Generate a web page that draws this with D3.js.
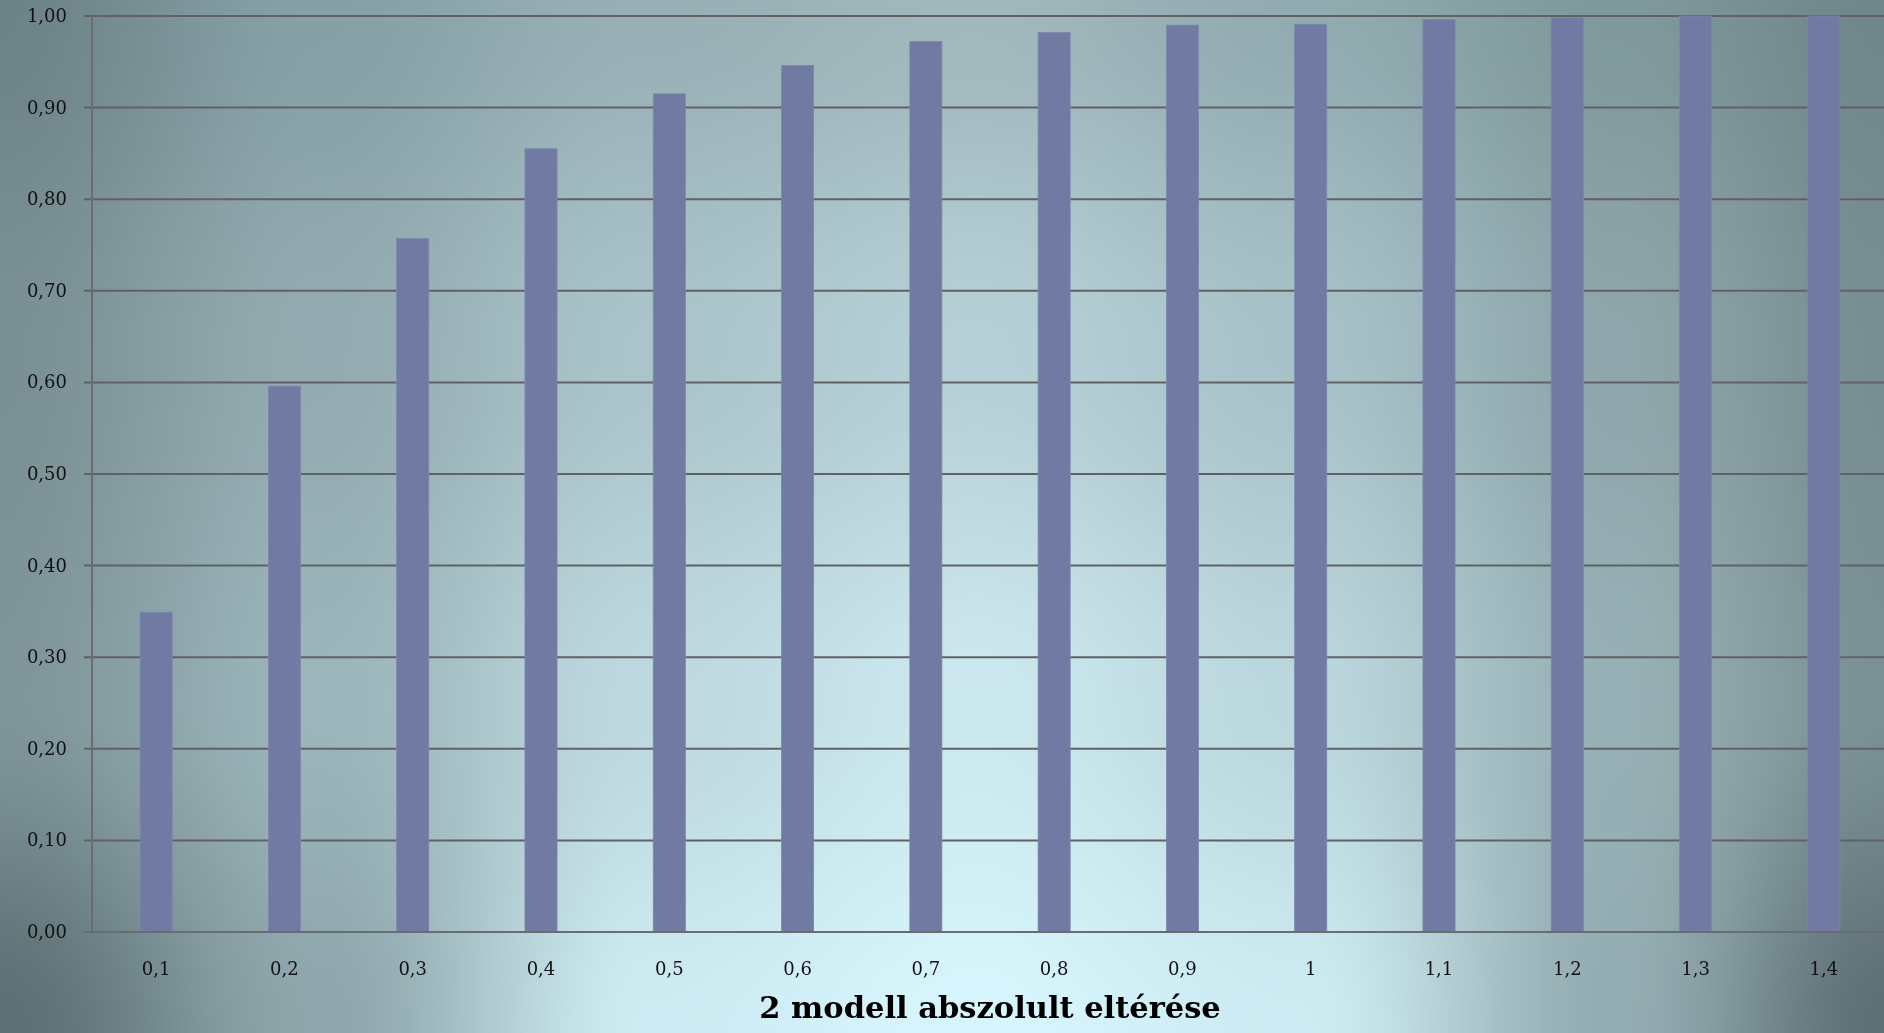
<!DOCTYPE html>
<html>
<head>
<meta charset="utf-8">
<script src="https://cdn.jsdelivr.net/npm/d3@7"></script>
<style>
  html, body { margin: 0; padding: 0; overflow: hidden; background: #7a9095; }
  #wrap { position: relative; width: 1884px; height: 1033px; }
  #bg, #chart { position: absolute; left: 0; top: 0; display: block; }
</style>
</head>
<body>
<div id="wrap">
<canvas id="bg" width="1884" height="1033"></canvas>
<svg id="chart" width="1884" height="1033"></svg>
</div>
<script>
// ---- data ----
const categories = ["0,1","0,2","0,3","0,4","0,5","0,6","0,7","0,8","0,9","1","1,1","1,2","1,3","1,4"];
const values = [0.349, 0.596, 0.757, 0.855, 0.915, 0.946, 0.972, 0.982, 0.990, 0.991, 0.996, 0.998, 1.000, 1.000];
const yTicks = [0, 0.1, 0.2, 0.3, 0.4, 0.5, 0.6, 0.7, 0.8, 0.9, 1.0];
const xTitle = "2 modell abszolult eltérése";

// ---- layout ----
const W = 1884, H = 1033;
const plot = { left: 92, right: 1888, top: 16, bottom: 932 };

// ---- background: smooth colour field sampled from the reference look ----
const bgCols = [0, 320, 650, 975, 1300, 1620, 1884];
const bgRows = [0, 350, 700, 1033];
const bgGrid = [
  ["#6d8388", "#86a0a5", "#98b0b5", "#a0b7bc", "#92abb0", "#7f989c", "#6f868a"],
  ["#7a9095", "#93abb0", "#aac4ca", "#b5d0d6", "#a7c2c8", "#8ea6ab", "#778e92"],
  ["#7f959a", "#9bb5ba", "#bdd9df", "#cbe8ee", "#bad7dd", "#97b0b5", "#7b9195"],
  ["#5d7074", "#8ea6ab", "#cdebf2", "#d6f5fc", "#cdebf2", "#93acb1", "#5e7075"]
];
(function drawBackground() {
  const ctx = document.getElementById("bg").getContext("2d");
  const img = ctx.createImageData(W, H);
  const rgb = bgGrid.map(r => r.map(c => { const k = d3.rgb(c); return [k.r, k.g, k.b]; }));
  const smooth = t => t * t * (3 - 2 * t);
  const seg = (arr, v) => { let i = 0; while (i < arr.length - 2 && v > arr[i + 1]) i++; return i; };
  const colIdx = new Int32Array(W), colT = new Float32Array(W);
  for (let x = 0; x < W; x++) { const i = seg(bgCols, x); colIdx[x] = i; colT[x] = smooth(Math.min(1, Math.max(0, (x - bgCols[i]) / (bgCols[i + 1] - bgCols[i])))); }
  for (let y = 0; y < H; y++) {
    const j = seg(bgRows, y);
    const ty = smooth(Math.min(1, Math.max(0, (y - bgRows[j]) / (bgRows[j + 1] - bgRows[j]))));
    for (let x = 0; x < W; x++) {
      const i = colIdx[x], tx = colT[x];
      const a = rgb[j][i], b = rgb[j][i + 1], c = rgb[j + 1][i], d = rgb[j + 1][i + 1];
      const p = (y * W + x) * 4;
      for (let k = 0; k < 3; k++) {
        const top = a[k] + (b[k] - a[k]) * tx;
        const bot = c[k] + (d[k] - c[k]) * tx;
        img.data[p + k] = top + (bot - top) * ty;
      }
      img.data[p + 3] = 255;
    }
  }
  ctx.putImageData(img, 0, 0);
})();

const svg = d3.select("#chart");

const x = d3.scaleBand().domain(categories).range([plot.left, plot.right]).paddingInner(0.75).paddingOuter(0.375);
const y = d3.scaleLinear().domain([0, 1]).range([plot.bottom, plot.top]);

const fmt = d => d3.format(".2f")(d).replace(".", ",");

// gridlines (with small outward tick)
svg.append("g").selectAll("line").data(yTicks).join("line")
  .attr("x1", plot.left - 8).attr("x2", plot.right)
  .attr("y1", d => y(d)).attr("y2", d => y(d))
  .attr("stroke", "#5f6263").attr("stroke-width", 2);

// y axis line
svg.append("line")
  .attr("x1", plot.left).attr("x2", plot.left)
  .attr("y1", plot.top).attr("y2", plot.bottom)
  .attr("stroke", "#6a6d6e").attr("stroke-width", 2);

// bars
svg.append("g").selectAll("rect").data(values).join("rect")
  .attr("x", (d, i) => x(categories[i]))
  .attr("width", x.bandwidth())
  .attr("y", d => y(d))
  .attr("height", d => y(0) - y(d))
  .attr("fill", "#717aa2")
  .attr("stroke", "#7d86ab").attr("stroke-width", 0.8);

// baseline on top
svg.append("line")
  .attr("x1", plot.left - 8).attr("x2", plot.right)
  .attr("y1", y(0)).attr("y2", y(0))
  .attr("stroke", "#6a6d6e").attr("stroke-width", 2);

// y tick labels
svg.append("g").selectAll("text").data(yTicks).join("text")
  .attr("x", 67).attr("y", d => y(d) + 6)
  .attr("text-anchor", "end")
  .attr("font-family", "'DejaVu Serif', serif")
  .attr("font-size", 18)
  .attr("fill", "#111")
  .text(fmt);

// x tick labels
svg.append("g").selectAll("text").data(categories).join("text")
  .attr("x", d => x(d) + x.bandwidth() / 2).attr("y", 975)
  .attr("text-anchor", "middle")
  .attr("font-family", "'DejaVu Serif', serif")
  .attr("font-size", 18)
  .attr("fill", "#111")
  .text(d => d);

// x title
svg.append("text")
  .attr("x", (plot.left + plot.right) / 2).attr("y", 1018)
  .attr("text-anchor", "middle")
  .attr("font-family", "'DejaVu Serif', serif")
  .attr("font-weight", "bold")
  .attr("font-size", 30.5)
  .attr("fill", "#000")
  .text(xTitle);
</script>
</body>
</html>
